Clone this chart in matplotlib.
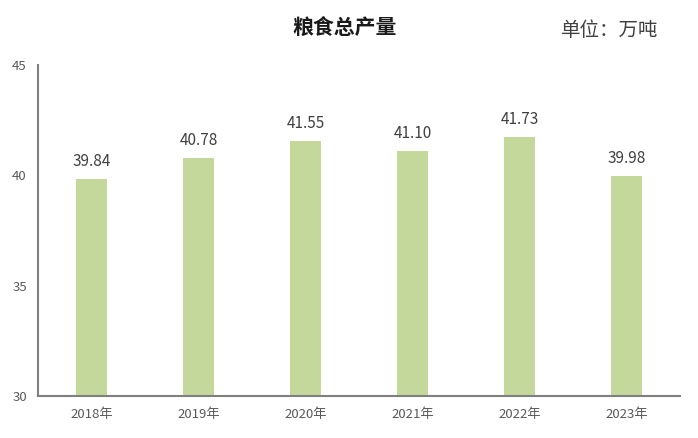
import matplotlib
matplotlib.use('Agg')
import matplotlib.pyplot as plt
import numpy as np

years = ['2018年', '2019年', '2020年', '2021年', '2022年', '2023年']
output = [39.84, 40.78, 41.55, 41.10, 41.73, 39.98]
labels = ['39.84', '40.78', '41.55', '41.10', '41.73', '39.98']

plt.rcParams['font.family'] = ['Noto Sans CJK SC', 'DejaVu Sans']

fig = plt.figure(figsize=(6.98, 4.38), dpi=100)
ax = fig.add_axes([0.0544, 0.096, 0.92, 0.756])

x = np.arange(len(years))
ax.bar(x, output, width=0.29, color='#c4d89c')
for xi, v, lab in zip(x, output, labels):
    ax.text(xi, v + 0.4, lab, ha='center', va='bottom', fontsize=11, color='#404040')

ax.set_ylim(30, 45)
ax.set_xlim(-0.5, len(years) - 0.5)
ax.set_yticks([30, 35, 40, 45])
ax.set_xticks(x)
ax.set_xticklabels(years)
ax.tick_params(axis='both', length=0, labelsize=9.5, colors='#595959')
ax.tick_params(axis='x', pad=9)
ax.tick_params(axis='y', pad=8)
for s in ['top', 'right']:
    ax.spines[s].set_visible(False)
for s in ['left', 'bottom']:
    ax.spines[s].set_color('#7f7f7f')
    ax.spines[s].set_linewidth(1.5)

fig.text(0.494, 0.935, '粮食总产量', ha='center', va='center', fontsize=15, fontweight='bold', color='#1a1a1a')
fig.text(0.943, 0.93, '单位：万吨', ha='right', va='center', fontsize=14, color='#404040')

fig.savefig('out.png', dpi=100)
